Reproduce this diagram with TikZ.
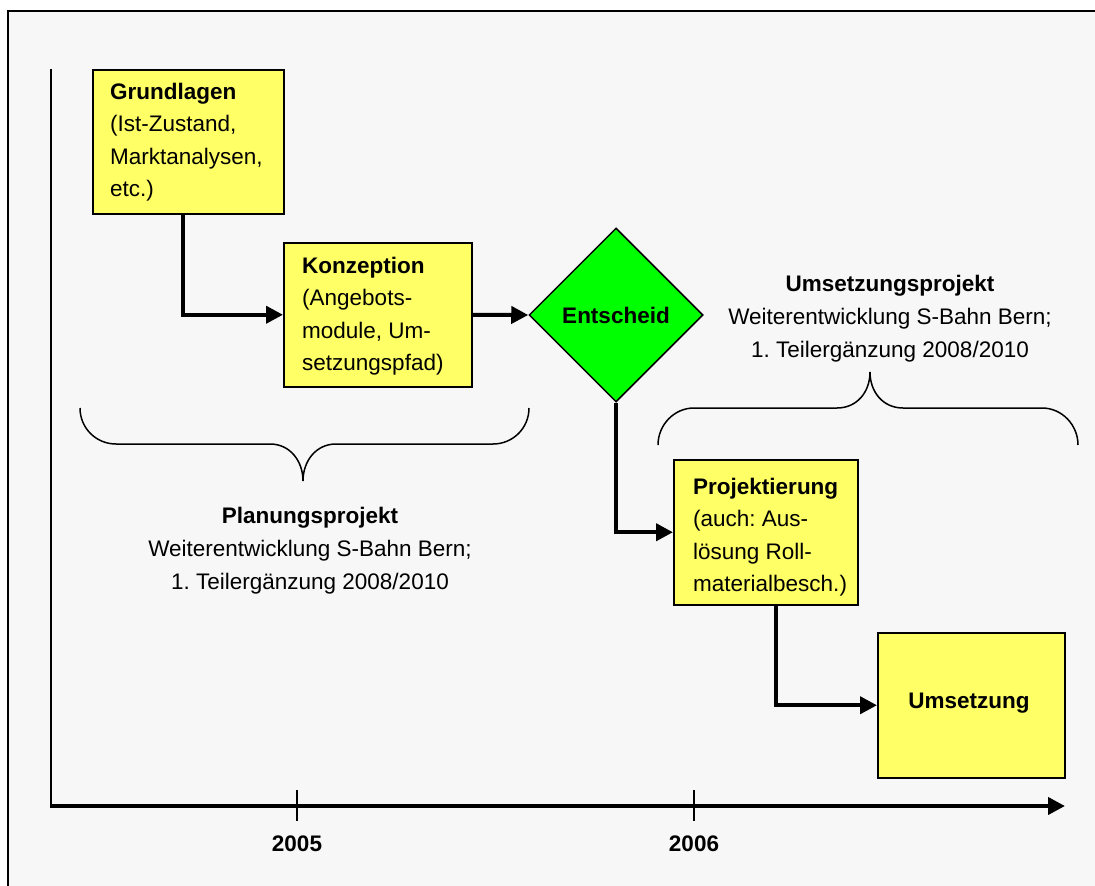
\documentclass[tikz,border=0pt]{standalone}
\usepackage{fontspec}
\setmainfont{Liberation Sans}
\usetikzlibrary{arrows.meta,shapes.geometric}
\definecolor{boxyellow}{RGB}{255,255,102}
\definecolor{boxgreen}{RGB}{0,255,0}
\definecolor{bggray}{RGB}{247,247,247}
\newcommand\mylines[1]{\begin{tabular}[t]{@{}l@{}}#1\end{tabular}}
\frenchspacing
\begin{document}
\begin{tikzpicture}[x=1pt,y=-1pt,
  every node/.style={font=\fontsize{22.5}{32.5}\selectfont\frenchspacing, inner sep=0pt},
  box/.style={draw=black, line width=1.5pt, fill=boxyellow, anchor=north west},
  txt/.style={anchor=base west},
  lbl/.style={anchor=base},
  conn/.style={line width=4pt, -{Triangle[length=17pt,width=17pt]}},
  brace/.style={line width=1.5pt},
  thinline/.style={line width=1.5pt}]
\useasboundingbox (0,0) rectangle (1095,886);
\fill[white] (0,0) rectangle (1095,886);
\filldraw[fill=bggray, draw=black, line width=2pt] (8,11) rectangle (1120,910);

% axes
\coordinate (o) at (50,806);
\coordinate (xe) at (1065,806);
\coordinate (yb) at (51,806);
\coordinate (yt) at (51,69);
\draw[thinline] (yb) -- (yt);
\draw[line width=4pt, -{Triangle[length=17pt,width=17pt]}] (o) -- (xe);
\coordinate (t5a) at (297,790);
\coordinate (t5b) at (297,821);
\coordinate (t6a) at (694,790);
\coordinate (t6b) at (694,821);
\draw[thinline] (t5a) -- (t5b);
\draw[thinline] (t6a) -- (t6b);
\node[lbl] (y5) at (297,851) {\bfseries 2005};
\node[lbl] (y6) at (694,851) {\bfseries 2006};

% boxes
\node[box, minimum width=191pt, minimum height=144pt] (g) at (92,69) {};
\node[box, minimum width=188pt, minimum height=144pt] (k) at (283,242) {};
\node[box, minimum width=184pt, minimum height=145pt] (p) at (673,459) {};
\node[box, minimum width=187pt, minimum height=145pt] (u) at (877,632) {};
\node[diamond, draw=black, line width=1.5pt, fill=boxgreen, minimum width=174pt, minimum height=174pt] (e) at (616,315) {\bfseries Entscheid};

\node[txt] (gt) at (110,99) {\mylines{\textbf{Grundlagen}\\(Ist-Zustand,\\Marktanalysen,\\etc.)}};
\node[txt] (kt) at (302,273) {\mylines{\textbf{Konzeption}\\(Angebots-\\module, Um-\\setzungspfad)}};
\node[txt] (pt) at (693,494) {\mylines{\textbf{Projektierung}\\(auch: Aus-\\lösung Roll-\\materialbesch.)}};
\node[lbl] (ut) at (969,708) {\bfseries Umsetzung};

% connectors
\draw[conn] ([xshift=-5.5pt]g.south) |- (k.west);
\draw[conn] (k.east) -- (e.west);
\draw[conn] (e.south) |- (p.west);
\draw[conn] ([xshift=10pt]p.south) |- (u.west);

% braces
\draw[brace] (80,408) .. controls (80,428) and (96,444) .. (116,444) -- (270,444)
  .. controls (290,444) and (303,461) .. (303,481)
  .. controls (303,461) and (316,444) .. (336,444) -- (493,444)
  .. controls (513,444) and (529,428) .. (529,408);
\draw[brace] (658,445) .. controls (658,425) and (674,408) .. (694,408) -- (837,408)
  .. controls (857,408) and (870,392) .. (870,372)
  .. controls (870,392) and (883,408) .. (903,408) -- (1042,408)
  .. controls (1062,408) and (1078,425) .. (1078,445);

% group labels
\node[lbl] (pl1) at (310,523) {\bfseries Planungsprojekt};
\node[lbl] (pl2) at (310,556) {Weiterentwicklung S-Bahn Bern;};
\node[lbl] (pl3) at (310,589) {1. Teilergänzung 2008/2010};
\node[lbl] (ul1) at (890,291) {\bfseries Umsetzungsprojekt};
\node[lbl] (ul2) at (890,324) {Weiterentwicklung S-Bahn Bern;};
\node[lbl] (ul3) at (890,357) {1. Teilergänzung 2008/2010};
\end{tikzpicture}
\end{document}
